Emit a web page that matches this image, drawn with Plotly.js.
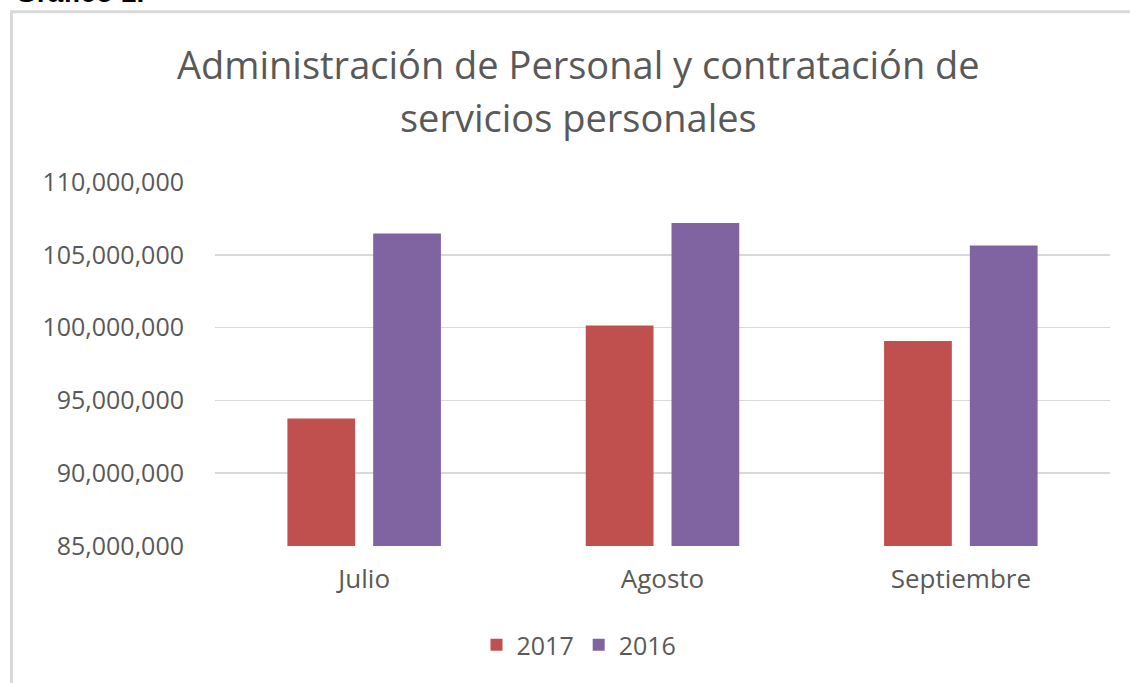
<!DOCTYPE html>
<html>
<head>
<meta charset="utf-8">
<script src="https://cdn.plot.ly/plotly-3.0.1.min.js"></script>
<style>
  html, body { margin: 0; padding: 0; background: #ffffff; }
  #chart { width: 1130px; height: 683px; }
</style>
</head>
<body>
<div id="chart"></div>
<script>
const categories = ["Julio", "Agosto", "Septiembre"];
const values2017 = [93760000, 100140000, 99080000];
const values2016 = [106470000, 107180000, 105640000];
const seriesNames = ["2017", "2016"];
const yTicks = [85000000, 90000000, 95000000, 100000000, 105000000, 110000000];
const yTickLabels = ["85,000,000", "90,000,000", "95,000,000", "100,000,000", "105,000,000", "110,000,000"];
const titleLines = ["Administración de Personal y contratación de", "servicios personales"];
const figureLabel = "Gráfico 1.";

const FONT = "'Open Sans', Lato, sans-serif";
const W = 1130, H = 683;
const ML = 215, MR = 20, MT = 182, MB = 137;
const PW = W - ML - MR, PH = H - MT - MB;
const px = x => (x - ML) / PW;
const py = y => (H - MB - y) / PH;

const traces = [
  { type: "bar", name: seriesNames[0], x: categories, y: values2017,
    marker: { color: "#C0504D" }, hoverinfo: "x+y" },
  { type: "bar", name: seriesNames[1], x: categories, y: values2016,
    marker: { color: "#8064A2" }, hoverinfo: "x+y" }
];

const layout = {
  width: W, height: H,
  margin: { l: ML, r: MR, t: MT, b: MB, pad: 0 },
  paper_bgcolor: "#ffffff", plot_bgcolor: "#ffffff",
  font: { family: FONT, color: "#595959", size: 25 },
  barmode: "group",
  bargap: 0.425,
  bargroupgap: 0.21,
  xaxis: {
    type: "category",
    showgrid: false, zeroline: false, showline: false,
    ticks: "", ticklabelstandoff: 15,
    tickfont: { family: FONT, size: 26, color: "#595959" }
  },
  yaxis: {
    range: [85000000, 110000000],
    tickvals: yTicks, ticktext: yTickLabels,
    showgrid: true, gridcolor: "#D9D9D9", gridwidth: 1.5,
    zeroline: false, showline: false, ticks: "",
    ticklabelstandoff: 30,
    tickfont: { family: FONT, size: 25, color: "#595959" }
  },
  legend: {
    orientation: "h", xref: "paper", x: px(579), xanchor: "center",
    yref: "paper", y: py(645), yanchor: "middle",
    font: { family: FONT, size: 25, color: "#595959" },
    itemwidth: 30, traceorder: "normal", itemclick: false
  },
  showlegend: true,
  shapes: [
    { type: "line", xref: "paper", yref: "paper", x0: px(11.5), x1: px(1135), y0: py(11.7), y1: py(11.7),
      line: { color: "#D9D9D9", width: 3 } },
    { type: "line", xref: "paper", yref: "paper", x0: px(11.5), x1: px(11.5), y0: py(10.2), y1: py(690),
      line: { color: "#D9D9D9", width: 3 } }
  ],
  annotations: [
    { text: titleLines[0], xref: "paper", yref: "paper", x: px(578), xanchor: "center",
      y: py(64), yanchor: "middle", showarrow: false,
      font: { family: FONT, size: 38, color: "#595959" } },
    { text: titleLines[1], xref: "paper", yref: "paper", x: px(578), xanchor: "center",
      y: py(117), yanchor: "middle", showarrow: false,
      font: { family: FONT, size: 38, color: "#595959" } },
    { text: "<b>" + figureLabel + "</b>", xref: "paper", yref: "paper", x: px(13), xanchor: "left",
      y: py(-8), yanchor: "middle", showarrow: false,
      font: { family: "'Liberation Sans', Arial, sans-serif", size: 28, color: "#000000" } }
  ]
};

Plotly.newPlot("chart", traces, layout, { displayModeBar: false, staticPlot: true });
</script>
</body>
</html>
